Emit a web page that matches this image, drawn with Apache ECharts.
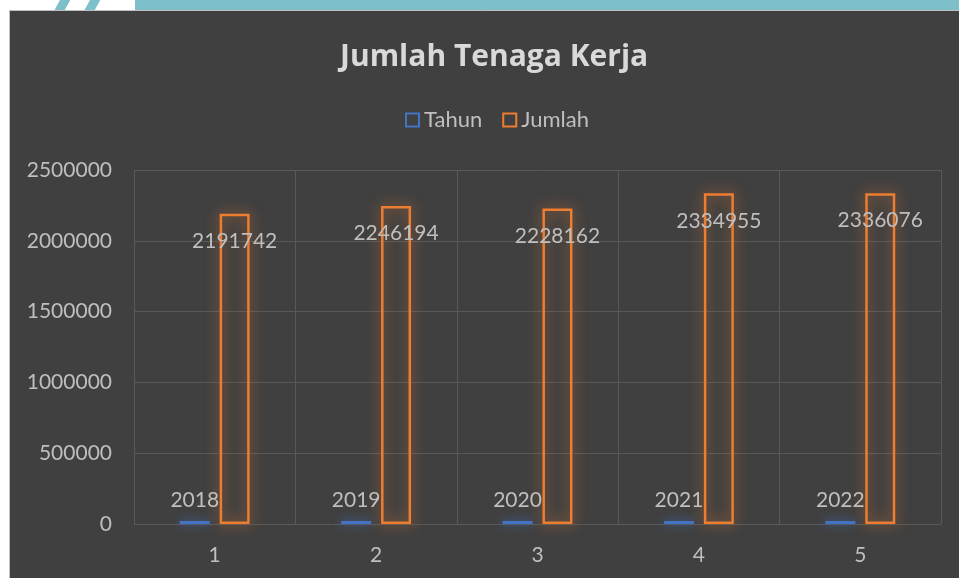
<!DOCTYPE html>
<html>
<head>
    <meta charset="utf-8">
    <title>Jumlah Tenaga Kerja</title>
    <script src="https://cdn.jsdelivr.net/npm/echarts@6/dist/echarts.min.js"></script>
    <style>
        html, body { margin: 0; padding: 0; background: #fff; }
        #main { width: 959px; height: 578px; }
    </style>
</head>
<body>
    <div id="main"></div>
    <script>
        var categories = ['1', '2', '3', '4', '5'];
        var tahun = [2018, 2019, 2020, 2021, 2022];
        var jumlah = [2191742, 2246194, 2228162, 2334955, 2336076];

        var txt = '#BFBFBF';
        var font = 'Lato, "Open Sans", sans-serif';

        var myChart = echarts.init(document.getElementById('main'));

        var option = {
            backgroundColor: '#ffffff',
            textStyle: { fontFamily: font },
            graphic: [
                // watermark strip at the top (mostly hidden by the chart panel)
                { type: 'rect', z: -3, shape: { x: 135, y: 0, width: 824, height: 12 }, style: { fill: '#7DC0CA' } },
                { type: 'rect', z: -3, rotation: -0.5, x: 60, y: 0, shape: { x: 0, y: -20, width: 9, height: 40 }, style: { fill: '#7DC0CA' } },
                { type: 'rect', z: -3, rotation: -0.5, x: 90, y: 0, shape: { x: 0, y: -20, width: 9, height: 40 }, style: { fill: '#7DC0CA' } },
                { type: 'text', z: -2, x: 180, y: -100, style: { text: 'POLITEKNIK', fill: '#ffffff', font: 'bold 124px "Open Sans", sans-serif' } },
                // chart panel
                { type: 'rect', z: -1, shape: { x: 9.5, y: 10.5, width: 960, height: 580 }, style: { fill: '#404040', stroke: '#BFBFBF', lineWidth: 1 } }
            ],
            title: {
                text: 'Jumlah Tenaga Kerja',
                left: 335,
                top: 37,
                textStyle: { color: '#D9D9D9', fontSize: 30, fontWeight: 'bold', fontFamily: '"Open Sans", sans-serif' }
            },
            legend: {
                top: 104,
                left: 400,
                itemWidth: 13,
                itemHeight: 13,
                itemGap: 20,
                itemTextGap: 5,
                textStyle: { color: txt, fontSize: 22, fontFamily: font },
                data: [
                    { name: 'Tahun', icon: 'rect', itemStyle: { color: 'transparent', borderColor: '#4472C4', borderWidth: 2 } },
                    { name: 'Jumlah', icon: 'rect', itemStyle: { color: 'transparent', borderColor: '#ED7D31', borderWidth: 2 } }
                ]
            },
            grid: { left: 134, right: 18, top: 170, bottom: 54 },
            xAxis: {
                type: 'category',
                data: categories,
                axisTick: { show: false },
                axisLine: { lineStyle: { color: '#595959' } },
                axisLabel: { color: txt, fontSize: 21, margin: 21, fontFamily: font },
                splitLine: { show: true, lineStyle: { color: '#595959', width: 1 } }
            },
            yAxis: {
                type: 'value',
                min: 0,
                max: 2500000,
                interval: 500000,
                axisLine: { show: false },
                axisTick: { show: false },
                axisLabel: {
                    color: txt, fontSize: 21, margin: 22, fontFamily: font,
                    formatter: function (v) { return String(v); }
                },
                splitLine: { lineStyle: { color: '#595959', width: 1 } }
            },
            series: [
                {
                    name: 'Tahun',
                    type: 'bar',
                    data: tahun,
                    barWidth: 30,
                    barGap: '33%',
                    barMinHeight: 3,
                    itemStyle: { color: '#4472C4', shadowBlur: 10, shadowColor: 'rgba(68,114,196,0.9)' },
                    label: { show: true, position: 'top', distance: 10, color: txt, fontSize: 21, fontFamily: font }
                },
                {
                    name: 'Jumlah',
                    type: 'bar',
                    data: jumlah,
                    barWidth: 30,
                    itemStyle: {
                        color: 'transparent',
                        borderColor: '#ED7D31',
                        borderWidth: 2.5,
                        shadowBlur: 14,
                        shadowColor: 'rgba(237,125,49,0.85)'
                    },
                    label: { show: true, position: 'insideTop', distance: 17, color: txt, fontSize: 21, fontFamily: font }
                }
            ]
        };

        myChart.setOption(option);
    </script>
</body>
</html>
